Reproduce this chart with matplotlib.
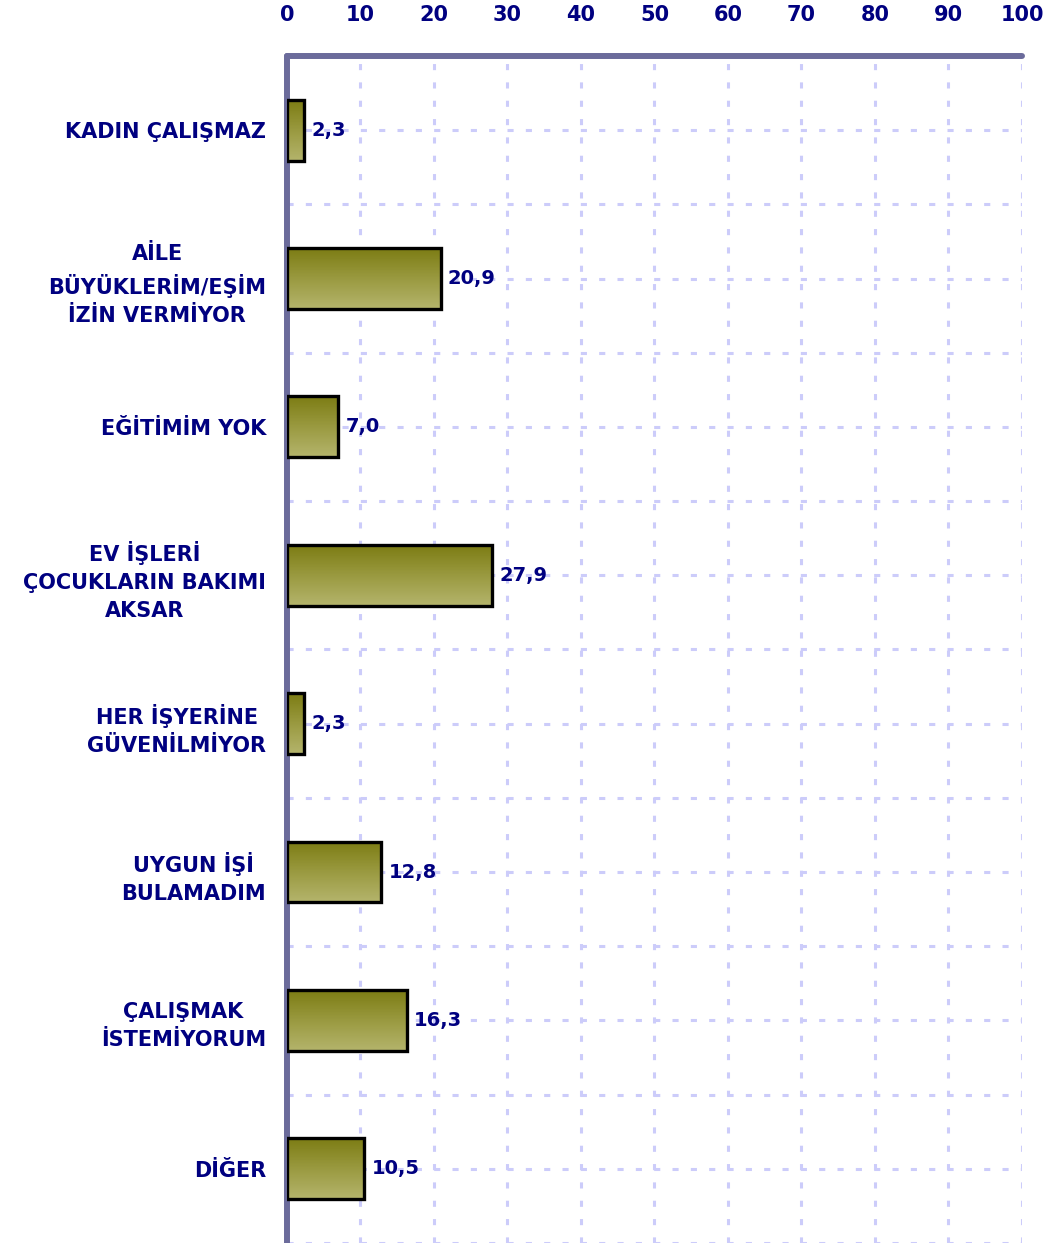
import numpy as np
import matplotlib.pyplot as plt
from matplotlib.ticker import MultipleLocator
from matplotlib.colors import LinearSegmentedColormap

# data
categories = ["KADIN ÇALIŞMAZ",
              "AİLE\nBÜYÜKLERİM/EŞİM\nİZİN VERMİYOR",
              "EĞİTİMİM YOK",
              "EV İŞLERİ\nÇOCUKLARIN BAKIMI\nAKSAR",
              "HER İŞYERİNE\nGÜVENİLMİYOR",
              "UYGUN İŞİ\nBULAMADIM",
              "ÇALIŞMAK\nİSTEMİYORUM",
              "DİĞER"]
values = [2.3, 20.9, 7.0, 27.9, 2.3, 12.8, 16.3, 10.5]
value_labels = ["2,3", "20,9", "7,0", "27,9", "2,3", "12,8", "16,3", "10,5"]
x_ticks = [0, 10, 20, 30, 40, 50, 60, 70, 80, 90, 100]

navy = "#000080"
spine_col = "#6b6b9b"
grid_col = "#ccccfa"

plt.rcParams['font.family'] = ['DejaVu Sans']

fig = plt.figure(figsize=(10.54, 12.43), dpi=100)
ax = fig.add_axes([0.2723, 0.0, 0.6973, 0.955])

y = np.arange(len(categories))
bars = ax.barh(y, values, height=0.41, color="none", edgecolor="black",
               linewidth=2.4, zorder=4)

# olive gradient inside each bar
grad = np.linspace(0, 1, 100).reshape(-1, 1)
cmap = LinearSegmentedColormap.from_list("olive", ["#7c7c14", "#9a9a40", "#b4b46c"])
for b in bars:
    x0, y0 = b.get_x(), b.get_y()
    w, h = b.get_width(), b.get_height()
    im = ax.imshow(grad, extent=[x0, x0 + w, y0 + h, y0], aspect="auto",
                   cmap=cmap, zorder=3, origin="upper")
    im.set_clip_path(b)

for yi, v, lab in zip(y, values, value_labels):
    ax.text(v + 1.0, yi, lab, va="center", ha="left", fontsize=14,
            fontweight="bold", color=navy, zorder=5)

ax.set_xlim(0, 100)
ax.set_ylim(len(categories) - 0.5, -0.5)
ax.xaxis.tick_top()
ax.set_xticks(x_ticks)
ax.set_xticklabels([str(t) for t in x_ticks], fontsize=15, fontweight="bold", color=navy)
ax.tick_params(axis="x", length=0, pad=22)

ax.set_yticks(y)
ax.set_yticklabels(categories, fontsize=15, fontweight="bold", color=navy,
                   multialignment="center", linespacing=1.5)
ax.tick_params(axis="y", length=0, pad=15)
ax.yaxis.set_minor_locator(MultipleLocator(1, offset=0.5))
ax.tick_params(axis="y", which="minor", length=0)

ax.grid(True, which="both", color=grid_col, linestyle=(0, (2, 4)), linewidth=2.2, zorder=0)
ax.set_axisbelow(True)

for s in ["right", "bottom"]:
    ax.spines[s].set_visible(False)
for s in ["left", "top"]:
    ax.spines[s].set_color(spine_col)
    ax.spines[s].set_linewidth(4.3)
    ax.spines[s].set_capstyle("round")

fig.savefig("out.png", dpi=100)
